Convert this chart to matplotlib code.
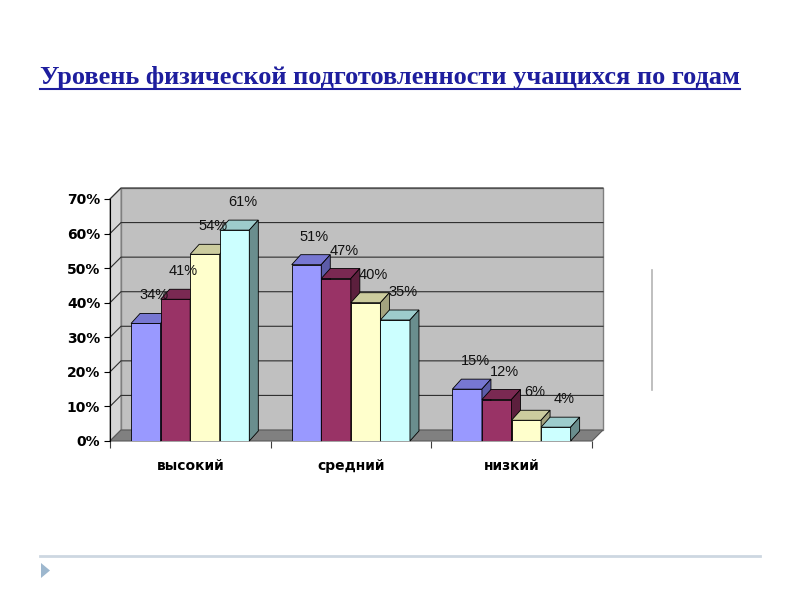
import matplotlib
matplotlib.use('Agg')
import matplotlib.pyplot as plt
from matplotlib.patches import Polygon
from matplotlib.lines import Line2D

title = 'Уровень физической подготовленности учащихся по годам'
categories = ['высокий', 'средний', 'низкий']
year1 = [34, 51, 15]
year2 = [41, 47, 12]
year3 = [54, 40, 6]
year4 = [61, 35, 4]
series = [year1, year2, year3, year4]
y_ticks = [0, 10, 20, 30, 40, 50, 60, 70]

front_colors = ['#9999FF', '#993366', '#FFFFCC', '#CCFFFF']
top_colors = ['#7777D2', '#7A2952', '#CCCC9E', '#9DCCCC']
side_colors = ['#5C5CA8', '#5C1F3D', '#A3A37F', '#6A8E8E']


def px(v):
    return v / 800.0


def py(v):
    return 1 - v / 600.0


fig = plt.figure(figsize=(8, 6), dpi=100)
fig.patch.set_facecolor('white')

# plot area: front plane of the 3d chart
ax = fig.add_axes([px(110), py(441), (592 - 110) / 800, (441 - 199) / 600])
ax.set_xlim(0, 3)
ax.set_ylim(0, 70)
ax.set_facecolor('none')

ux = 482 / 3.0      # pixels per category
uy = 242 / 70.0     # pixels per percent
wdx, wdy = 11 / ux, 11 / uy   # wall depth
bdx, bdy = 9 / ux, 10 / uy    # bar depth

# walls and floor
ax.add_patch(Polygon([(wdx, wdy), (3 + wdx, wdy), (3 + wdx, 70 + wdy), (wdx, 70 + wdy)],
                     fc='#C0C0C0', ec='#7F7F7F', lw=1, clip_on=False, zorder=0))
ax.add_patch(Polygon([(0, 0), (wdx, wdy), (wdx, 70 + wdy), (0, 70)],
                     fc='#D6D6D6', ec='#7F7F7F', lw=0.8, clip_on=False, zorder=0))
ax.add_patch(Polygon([(0, 0), (3, 0), (3 + wdx, wdy), (wdx, wdy)],
                     fc='#808080', ec='#5A5A5A', lw=0.8, clip_on=False, zorder=1))
for t in y_ticks[1:]:
    ax.plot([0, wdx, 3 + wdx], [t, t + wdy, t + wdy], color='#2E2E2E', lw=0.8,
            clip_on=False, zorder=1)

# bars
w = 0.184
start = 0.131
for j, vals in enumerate(series):
    xs = [i + start + j * w for i in range(len(categories))]
    z = 3 + j * 3
    ax.bar(xs, vals, width=w, align='edge', color=front_colors[j],
           edgecolor='black', linewidth=0.6, zorder=z)
    for x0, v in zip(xs, vals):
        ax.add_patch(Polygon([(x0, v), (x0 + w, v), (x0 + w + bdx, v + bdy), (x0 + bdx, v + bdy)],
                             fc=top_colors[j], ec='black', lw=0.6, clip_on=False, zorder=z + 1))
        ax.add_patch(Polygon([(x0 + w, 0), (x0 + w, v), (x0 + w + bdx, v + bdy), (x0 + w + bdx, bdy)],
                             fc=side_colors[j], ec='black', lw=0.6, clip_on=False, zorder=z + 2))
        ax.annotate(f'{v}%', xy=(x0 + w / 2, v), xytext=(8, 28), textcoords='offset pixels',
                    ha='center', va='center', fontsize=10.5, family='Liberation Sans',
                    color='#111111', zorder=30, annotation_clip=False)

# axes
for s in ['top', 'right', 'bottom']:
    ax.spines[s].set_visible(False)
ax.spines['left'].set_color('black')
ax.spines['left'].set_linewidth(0.8)
ax.set_yticks(y_ticks, labels=[f'{t}%' for t in y_ticks])
ax.tick_params(axis='y', length=4, width=0.8, pad=3, labelsize=10)
for lbl in ax.get_yticklabels():
    lbl.set_fontweight('bold')
ax.set_xticks([0, 1, 2, 3], labels=['', '', '', ''])
ax.set_xticks([0.5, 1.5, 2.5], labels=categories, minor=True)
ax.tick_params(axis='x', which='major', length=5, width=0.8, color='#404040')
ax.tick_params(axis='x', which='minor', length=0, pad=13, labelsize=10)
for lbl in ax.get_xticklabels(minor=True):
    lbl.set_fontweight('bold')

# title with underline
tt = fig.text(px(40), py(84), title, fontsize=19, fontweight='bold', family='Liberation Serif',
              color='#1E1E9E', ha='left', va='baseline')
fig.canvas.draw()
bb = tt.get_window_extent()
fig.add_artist(Line2D([bb.x0 / 800, bb.x1 / 800], [py(89), py(89)], color='#1E1E9E', lw=1.5))

# slide decorations
fig.add_artist(Line2D([px(652), px(652)], [py(270), py(390)], color='#B4B4B4', lw=1.2))
fig.add_artist(Line2D([px(40), px(760)], [py(556), py(556)], color='#CDD7E1', lw=2))
fig.add_artist(Polygon([(px(41), py(563)), (px(41), py(578)), (px(50), py(570.5))],
                       closed=True, transform=fig.transFigure, fc='#9DB7CE', ec='none'))

fig.savefig('out.png', dpi=100)
